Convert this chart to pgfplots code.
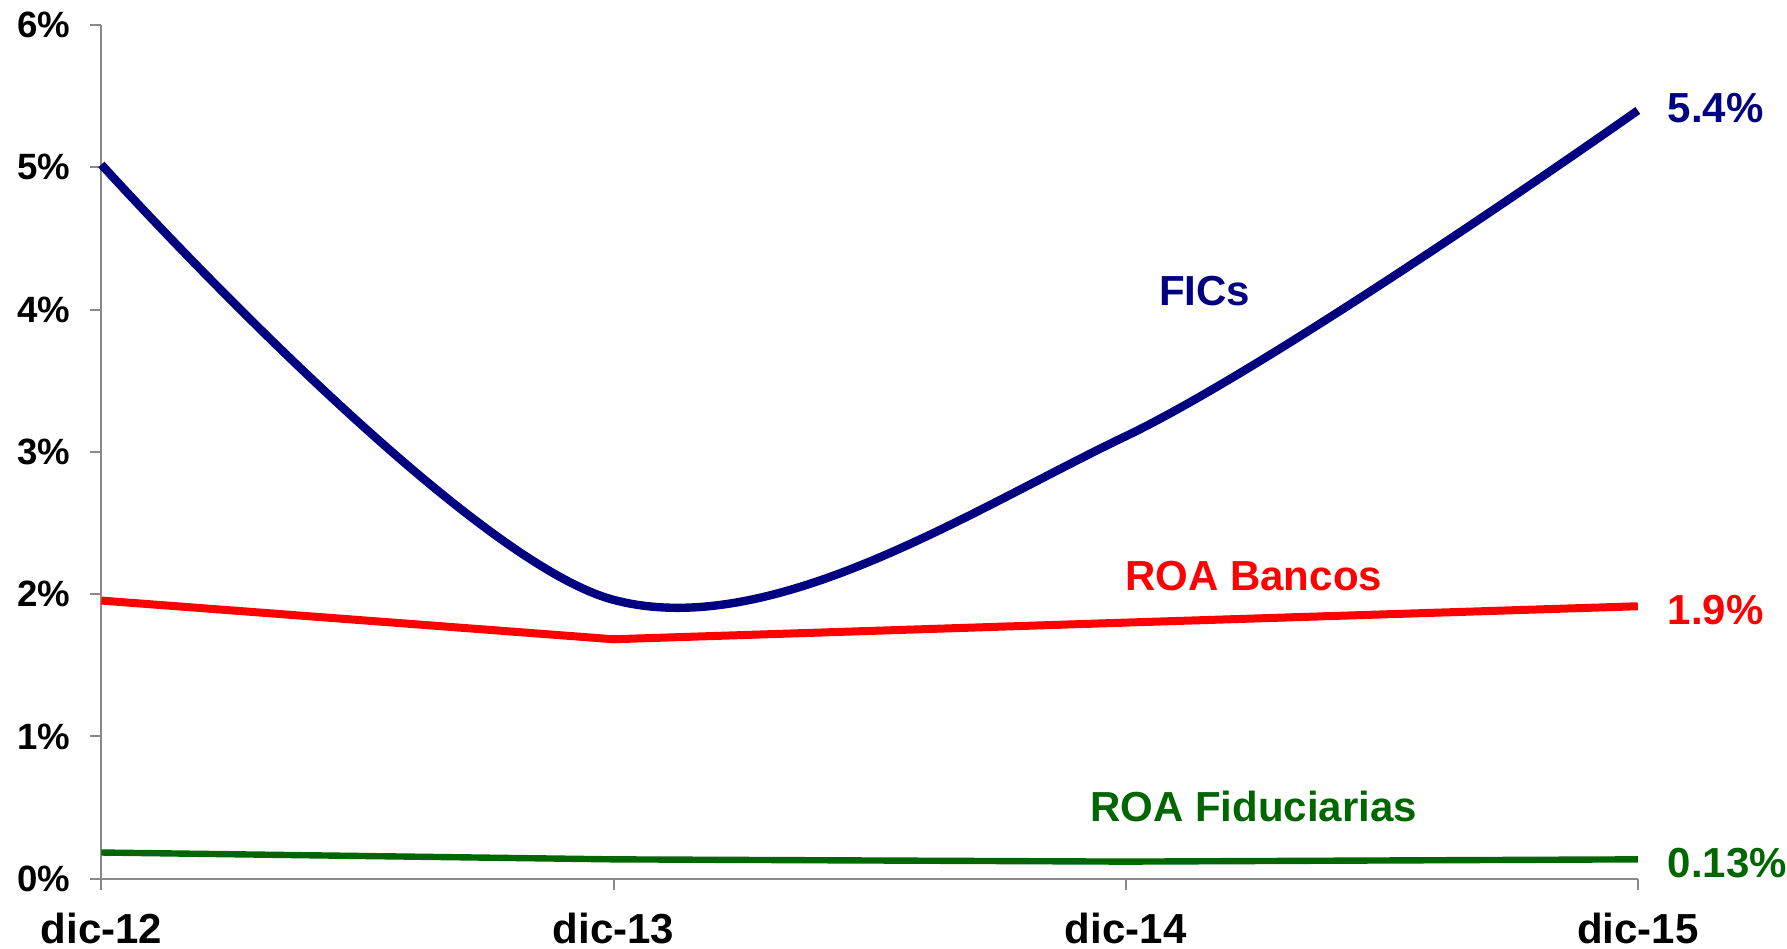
\documentclass[border=0pt]{standalone}
\usepackage{pgfplots}
\pgfplotsset{compat=1.18}
\usepackage{fontspec}
\setmainfont{Liberation Sans}
\definecolor{fics}{RGB}{0,0,128}
\definecolor{bancos}{RGB}{255,0,0}
\definecolor{fid}{RGB}{0,102,0}
\definecolor{axgray}{RGB}{137,137,137}
\begin{document}
\begin{tikzpicture}
\begin{axis}[
  name=ax,
  scale only axis,
  width=768.2pt, height=426.8pt,
  xmin=0, xmax=3, ymin=0, ymax=6,
  axis x line*=bottom, axis y line*=left,
  axis line style={axgray, line width=1pt},
  xtick={0,1,2,3},
  xticklabels={dic-12,dic-13,dic-14,dic-15},
  ytick={0,1,2,3,4,5,6},
  yticklabel={\pgfmathprintnumber[assume math mode=true]{\tick}\%},
  tick style={axgray, line width=1pt},
  tick align=outside,
  major tick length=5.5pt,
  x tick label style={font=\fontsize{21}{21}\selectfont\bfseries, yshift=-8pt},
  y tick label style={font=\fontsize{18.3}{18.3}\selectfont\bfseries, xshift=-6.5pt},
  clip=false,
]
\addplot[fics, line width=4.2pt, smooth, tension=0.55] coordinates {
  (0,5.02) (1,1.96) (2,3.11) (3,5.40)};
\addplot[bancos, line width=4pt] coordinates {
  (0,1.955) (1,1.683) (2,1.80) (3,1.915)};
\addplot[fid, line width=3.2pt] coordinates {
  (0,0.184) (1,0.136) (2,0.12) (3,0.136)};
\node[fics, font=\fontsize{21}{21}\selectfont\bfseries] at (axis cs:2.154,4.13) {FICs};
\node[bancos, font=\fontsize{21}{21}\selectfont\bfseries] at (axis cs:2.25,2.13) {ROA Bancos};
\node[fid, font=\fontsize{21}{21}\selectfont\bfseries] at (axis cs:2.25,0.51) {ROA Fiduciarias};
\node[fics, font=\fontsize{21}{21}\selectfont\bfseries, anchor=west] at (axis cs:3.045,5.42) {5.4\%};
\node[bancos, font=\fontsize{21}{21}\selectfont\bfseries, anchor=west] at (axis cs:3.045,1.89) {1.9\%};
\node[fid, font=\fontsize{21}{21}\selectfont\bfseries, anchor=west] at (axis cs:3.045,0.11) {0.13\%};
\coordinate (bl) at (rel axis cs:-0.066,-0.0812);
\coordinate (tr) at (rel axis cs:1.0971,1.0294);
\end{axis}
\pgfresetboundingbox
\useasboundingbox (bl) rectangle (tr);
\end{tikzpicture}
\end{document}
